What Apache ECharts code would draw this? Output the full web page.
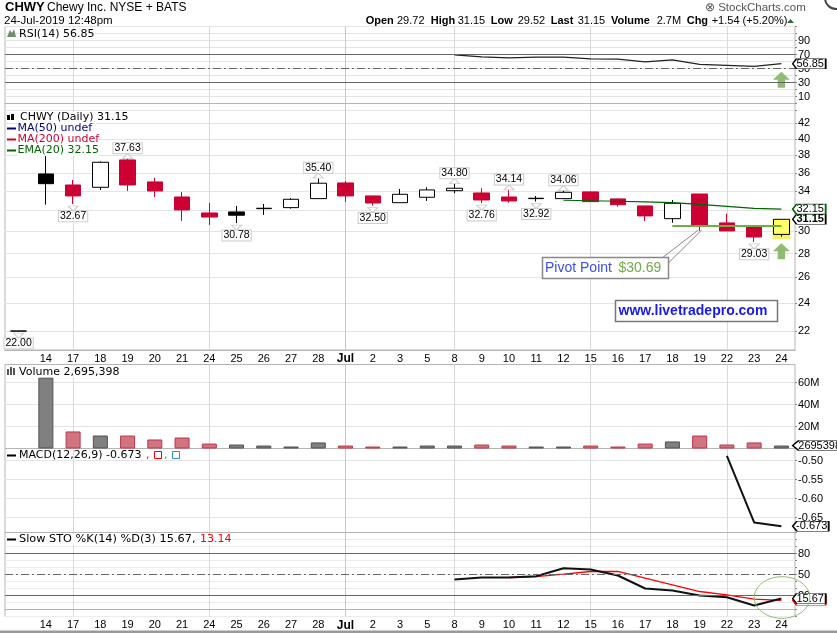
<!DOCTYPE html>
<html>
<head>
<meta charset="utf-8">
<title>CHWY</title>
<style>html,body{margin:0;padding:0;background:#fff;overflow:hidden}#main{width:837px;height:633px}</style>
<script src="https://cdn.jsdelivr.net/npm/echarts@6/dist/echarts.min.js"></script>
</head>
<body>
<div id="main"></div>
<script>
// values
var days = ['', '14', '17', '18', '19', '20', '21', '24', '25', '26', '27', '28', 'Jul', '2', '3', '5', '8', '9', '10', '11', '12', '15', '16', '17', '18', '19', '22', '23', '24'];
var opens = [22, 35.87, 34.66, 34.41, 37.47, 34.99, 33.39, 31.77, 31.87, 32.2, 32.3, 33.22, 34.88, 33.5, 32.8, 33.36, 34.05, 33.81, 33.39, 33.22, 33.22, 33.92, 33.19, 32.47, 31.21, 33.7, 30.8, 30.41, 29.72];
var closes = [22, 34.8, 33.5, 37.2, 34.66, 34.02, 32.07, 31.37, 31.55, 32.24, 33.15, 34.85, 33.5, 32.77, 33.67, 34.13, 34.31, 33.08, 32.98, 33.26, 33.88, 32.91, 32.6, 31.48, 32.74, 30.5, 30.04, 29.48, 31.15];
var lows = [22, 32.6, 32.67, 34.13, 34.02, 33.39, 30.99, 30.6, 30.78, 31.57, 32.2, 33.22, 32.88, 32.5, 32.8, 32.98, 33.78, 32.76, 32.8, 32.92, 33.22, 32.91, 32.4, 30.99, 30.82, 30.05, 30.04, 29.03, 29.52];
var highs = [22, 37.94, 35.2, 37.3, 37.63, 35.43, 33.92, 32.77, 32.47, 32.67, 33.27, 35.4, 35.1, 33.5, 34.23, 34.41, 34.8, 34.31, 34.14, 33.5, 34.06, 33.92, 33.25, 32.47, 33.07, 33.7, 31.7, 30.41, 31.15];
var ema20 = [null, null, null, null, null, null, null, null, null, null, null, null, null, null, null, null, null, null, null, null, 33.05, 33.0, 32.95, 32.88, 32.8, 32.62, 32.42, 32.22, 32.15];
var volumes = [null, 64.5, 15.5, 11.8, 11.8, 8.2, 10, 4.5, 3.6, 2.7, 1.8, 5.5, 2.7, 1.8, 1.8, 2.7, 2.7, 3.6, 2.7, 1.8, 1.8, 2.7, 1.8, 4.5, 6.4, 11.8, 3.6, 5.5, 2.695];
var rsi = [null, null, null, null, null, null, null, null, null, null, null, null, null, null, null, null, 69.5, 66.7, 65.2, 66.2, 66.2, 63.8, 63.3, 59.5, 62.4, 56, 54.5, 53, 56.85];
var macd = [null, null, null, null, null, null, null, null, null, null, null, null, null, null, null, null, null, null, null, null, null, null, null, null, null, null, -0.487, -0.663, -0.673];
var stoK = [null, null, null, null, null, null, null, null, null, null, null, null, null, null, null, null, 42.9, 45.7, 45.7, 47.6, 59, 57.1, 48.6, 30, 27.1, 20, 17.6, 5.7, 15.67];
var stoD = [null, null, null, null, null, null, null, null, null, null, null, null, null, null, null, null, null, null, 45.7, 47, 50.5, 54.3, 54.3, 44.7, 35.2, 25.7, 20.9, 14.7, 13.14];

var priceTicks = [42, 40, 38, 36, 34, 32, 30, 28, 26, 24, 22];
var macdTicks = [-0.65, -0.6, -0.55, -0.5];
var oscTicks = [90, 70, 50, 30, 10];
var stoTicks = [80, 50, 20];
var volTicks = [20, 40, 60];
var verticalDays = [2, 7, 12, 16, 21, 26];

var highNotes = [[4, 37.63], [11, 35.4], [16, 34.8], [18, 34.14], [20, 34.06]];
var lowNotes = [[0, 22], [2, 32.67], [8, 30.78], [13, 32.5], [17, 32.76], [19, 32.92], [27, 29.03]];
var lastIdx = days.length - 1;
var pivot = 30.5;

var RED = '#cc0033';
var font = 'Liberation Sans';
var wide = 'DejaVu Sans';
var arrowPath = 'path://M8 0 L16 8 L11.5 8 L11.5 16 L4.5 16 L4.5 8 L0 8 Z';

var candles = [];
var volItems = [];
for (var i = 0; i < days.length; i++) {
    var down = i > 0 && closes[i] < closes[i - 1];
    var fill = down ? RED : '#000';
    var hollow = closes[i] >= opens[i];
    var face = hollow ? (i == lastIdx ? '#ffff66' : '#fff') : fill;
    var edge = hollow ? '#000' : fill;
    // both colour pairs are set, so the look does not depend on which one the series picks
    candles.push({
        value: [opens[i], closes[i], lows[i], highs[i]],
        itemStyle: { color: face, color0: face, borderColor: edge, borderColor0: edge }
    });
    volItems.push({
        value: volumes[i],
        itemStyle: down ? { color: '#cf7480', borderColor: '#c23545', borderWidth: 1 } : { color: '#808080', borderColor: '#505050', borderWidth: 1 }
    });
}

// small price box on the right hand side
function tag(val, text, color, width, bold) {
    var w = width || 33;
    return {
        coord: [lastIdx, val],
        symbol: 'path://M0 5 L4 0 L34 0 L34 10 L4 10 Z',
        symbolSize: [w, 10],
        symbolOffset: [11.3 + w / 2, 0],
        itemStyle: { color: '#fff', borderColor: color, borderWidth: 1 },
        label: { show: true, position: 'inside', formatter: text, color: '#000', fontFamily: font, fontSize: 11, fontWeight: bold ? 'bold' : 'normal', offset: [1, 0] }
    };
}

function note(item, above) {
    return {
        coord: item,
        symbol: above ? 'path://M0 5 L5 0 L10 5 Z' : 'path://M0 0 L5 5 L10 0 Z',
        symbolSize: [10, 5],
        symbolOffset: [0, above ? -2.5 : 4.5],
        itemStyle: { color: '#fff', borderColor: '#ccc', borderWidth: 1 },
        label: {
            show: true,
            position: above ? 'top' : 'bottom',
            distance: 0,
            formatter: item[1].toFixed(2),
            color: '#000',
            fontFamily: font,
            fontSize: 10.5,
            backgroundColor: '#fff',
            borderColor: '#ccc',
            borderWidth: 1,
            padding: [0, 1],
            lineHeight: 10
        }
    };
}

var priceNotes = [];
highNotes.forEach(function (n) { priceNotes.push(note(n, true)); });
lowNotes.forEach(function (n) { priceNotes.push(note(n, false)); });
priceNotes.push(tag(31.15, '31.15', '#000', 33, true));

function levelLine(v, dash) {
    return { yAxis: v, lineStyle: { color: '#666', width: 1, type: dash ? [8, 3, 2, 3] : 'solid' } };
}

var grids = [
    { top: 26.5, height: 84 },
    { top: 110.5, height: 239.5 },
    { top: 364.5, height: 84 },
    { top: 448.5, height: 84 },
    { top: 532.5, height: 84 }
].map(function (g) {
    g.left = 5;
    g.width = 790;
    g.show = true;
    g.borderColor = '#b5b5b5';
    g.borderWidth = 1;
    return g;
});

var xAxes = grids.map(function (g, n) {
    return {
        type: 'category',
        gridIndex: n,
        data: days,
        axisLine: { lineStyle: { color: '#b5b5b5' } },
        axisTick: { show: false },
        axisLabel: {
            show: n == 1 || n == 4,
            interval: 0,
            margin: 3,
            color: '#000',
            fontFamily: font,
            fontSize: 11,
            formatter: function (v) { return v == 'Jul' ? '{b|Jul}' : v; },
            rich: { b: { fontWeight: 'bold', fontFamily: font, fontSize: 12 } }
        },
        splitLine: {
            show: true,
            alignWithLabel: true,
            interval: function (idx) { return verticalDays.indexOf(idx) >= 0; },
            lineStyle: { color: ['#dadada', '#dadada', '#c8c8c8', '#dadada', '#dadada', '#dadada'], width: 1 }
        }
    };
});

function valueAxis(n, extra) {
    var a = {
        type: 'value',
        gridIndex: n,
        position: 'right',
        axisLine: { show: false },
        axisTick: { show: true, length: 2, lineStyle: { color: '#888' } },
        axisLabel: { margin: 3, color: '#000', fontFamily: font, fontSize: 11 },
        splitLine: { show: true, lineStyle: { color: '#e4e4e4', width: 1 } }
    };
    for (var k in extra) a[k] = extra[k];
    return a;
}

function pickLabels(list) {
    return { margin: 3, color: '#000', fontFamily: font, fontSize: 11, formatter: function (v) { return list.indexOf(v) >= 0 ? String(v) : ''; } };
}

var yAxes = [
    valueAxis(0, { min: -10, max: 110, interval: 10, axisLabel: pickLabels(oscTicks) }),
    valueAxis(1, {
        type: 'log', min: 20.74, max: 43.7,
        axisLabel: { margin: 3, color: '#000', fontFamily: font, fontSize: 11, customValues: priceTicks, formatter: function (v) { return String(Math.round(v)); } },
        axisTick: { show: true, length: 2, customValues: priceTicks, lineStyle: { color: '#888' } }
    }),
    valueAxis(2, {
        min: 0, max: 76.4,
        axisLabel: { margin: 3, color: '#000', fontFamily: font, fontSize: 11, customValues: volTicks, formatter: function (v) { return v + 'M'; } },
        axisTick: { show: true, length: 2, customValues: volTicks, lineStyle: { color: '#888' } }
    }),
    valueAxis(3, {
        min: -0.6897, max: -0.4677,
        axisLabel: { margin: 3, color: '#000', fontFamily: font, fontSize: 11, customValues: macdTicks, formatter: function (v) { return v.toFixed(2); } },
        axisTick: { show: true, length: 2, customValues: macdTicks, lineStyle: { color: '#888' } }
    }),
    valueAxis(4, { min: -10, max: 110, interval: 10, axisLabel: pickLabels(stoTicks), splitLine: { show: true, lineStyle: { color: '#ececec', width: 1 } } })
];

var series = [
    {
        type: 'line', name: 'RSI', xAxisIndex: 0, yAxisIndex: 0, data: rsi, showSymbol: false, z: 3,
        lineStyle: { color: '#222', width: 1.3 },
        markLine: { silent: true, symbol: 'none', label: { show: false }, data: [levelLine(70), levelLine(50, true), levelLine(30)] },
        markPoint: { data: [tag(56.85, '56.85', '#000')] }
    },
    {
        type: 'scatter', name: 'RSI arrow', xAxisIndex: 0, yAxisIndex: 0, symbol: arrowPath, symbolSize: [17, 16], z: 4,
        itemStyle: { color: '#8fbc72', opacity: 1 }, data: [[lastIdx, 34]]
    },
    {
        type: 'scatter', name: 'highlight', xAxisIndex: 1, yAxisIndex: 1, symbol: 'rect', symbolSize: [18, 20], z: 1,
        itemStyle: { color: '#f7f06a', opacity: 1 }, data: [[lastIdx, 30.22]]
    },
    {
        type: 'candlestick', name: 'CHWY', xAxisIndex: 1, yAxisIndex: 1, data: candles, barWidth: 16, z: 2,
        itemStyle: { borderWidth: 1 },
        markPoint: { data: priceNotes }
    },
    {
        type: 'line', name: 'EMA(20)', xAxisIndex: 1, yAxisIndex: 1, data: ema20, showSymbol: false, z: 3,
        lineStyle: { color: '#006400', width: 1.2 },
        markLine: {
            silent: true, symbol: 'none', label: { show: false },
            data: [[{ coord: [24, pivot], lineStyle: { color: '#70ad47', width: 2, type: 'solid' } }, { coord: [28.42, pivot] }]]
        },
        markPoint: { data: [tag(32.15, '32.15', '#006400')] }
    },
    {
        type: 'scatter', name: 'price arrow', xAxisIndex: 1, yAxisIndex: 1, symbol: arrowPath, symbolSize: [17, 16], z: 4,
        itemStyle: { color: '#8fbc72', opacity: 1 }, data: [[lastIdx, 28.2]]
    },
    {
        type: 'bar', name: 'Volume', xAxisIndex: 2, yAxisIndex: 2, data: volItems, barWidth: 15,
        markPoint: { data: [tag(2.695, '2695398', '#000', 52)] }
    },
    {
        type: 'line', name: 'MACD', xAxisIndex: 3, yAxisIndex: 3, data: macd, showSymbol: false,
        lineStyle: { color: '#111', width: 2 },
        markPoint: { data: [tag(-0.673, '-0.673', '#000', 36)] }
    },
    {
        type: 'line', name: '%D', xAxisIndex: 4, yAxisIndex: 4, data: stoD, showSymbol: false, z: 3,
        lineStyle: { color: '#ff0000', width: 1.3 },
        markLine: { silent: true, symbol: 'none', label: { show: false }, data: [levelLine(80), levelLine(50, true), levelLine(20)] },
        markPoint: { data: [tag(13.14, '', '#ff0000')] } // sits behind the %K box, its value is in the legend
    },
    {
        type: 'line', name: '%K', xAxisIndex: 4, yAxisIndex: 4, data: stoK, showSymbol: false, z: 4,
        lineStyle: { color: '#111', width: 2 },
        markPoint: { data: [tag(15.67, '15.67', '#000')] }
    }
];

// texts and the things somebody drew on top of the chart
function txt(x, y, text, o) {
    o = o || {};
    return {
        type: 'text', x: x, y: y, z: 100,
        style: {
            text: text, verticalAlign: 'middle',
            fontFamily: o.family || font, fontSize: o.size || 11, fontWeight: o.weight || 'normal',
            fill: o.color || '#000', backgroundColor: o.bg
        }
    };
}
function box(x, y, w, h, stroke, fill, lw) {
    return { type: 'rect', z: 99, shape: { x: x, y: y, width: w, height: h }, style: { fill: fill || 'none', stroke: stroke, lineWidth: lw || 1 } };
}
function dash(y, color) {
    return { type: 'rect', z: 100, shape: { x: 7, y: y - 1, width: 9, height: 2 }, style: { fill: color } };
}
function seg(x1, y1, x2, y2) {
    return { type: 'line', z: 99, shape: { x1: x1, y1: y1, x2: x2, y2: y2 }, style: { stroke: '#888', lineWidth: 1 } };
}

var headerPieces = [
    ['Open', 365.7, 1], ['29.72', 397, 0], ['High', 430.7, 1], ['31.15', 457.7, 0], ['Low', 490.7, 1], ['29.52', 517.7, 0],
    ['Last', 550.7, 1], ['31.15', 577.7, 0], ['Volume', 611, 1], ['2.7M', 656.7, 0], ['Chg', 686.7, 1], ['+1.54 (+5.20%)', 711.7, 0]
];
var graphics = [
    txt(5, 7.5, 'CHWY', { size: 13, weight: 'bold' }),
    txt(47, 7.5, 'Chewy Inc. NYSE + BATS', { size: 12 }),
    txt(4, 20.7, '24-Jul-2019 12:48pm', { size: 11.5 }),
    txt(705, 7.5, '\u2297 StockCharts.com', { size: 11.5, color: '#555' }),
    { type: 'polygon', z: 100, shape: { points: [[787, 23], [794, 23], [790.5, 19]] }, style: { fill: '#2e6b2e' } },
    { type: 'circle', z: 100, shape: { cx: 836, cy: -2, r: 11 }, style: { fill: '#fff', stroke: '#444', lineWidth: 2 } },
    { type: 'rect', z: 100, shape: { x: 0, y: 630.5, width: 837, height: 3 }, style: { fill: '#999' } },

    { type: 'polygon', z: 100, shape: { points: [[7, 37], [10, 30], [12, 33], [14, 29], [16, 37]] }, style: { fill: '#6f8f6f' } },
    txt(19, 33.7, 'RSI(14) 56.85', { family: wide, bg: '#fff' }),

    { type: 'rect', z: 100, shape: { x: 7, y: 115, width: 3, height: 5 }, style: { fill: '#000' } },
    { type: 'rect', z: 100, shape: { x: 11, y: 114, width: 3, height: 6 }, style: { fill: '#000' } },
    txt(20, 117.5, 'CHWY (Daily) 31.15', { family: wide, bg: '#fff' }),
    dash(128.5, '#000080'),
    txt(17.5, 128.5, 'MA(50) undef', { family: wide, color: '#000080', bg: '#fff' }),
    dash(139.5, '#cc0033'),
    txt(17.5, 139.5, 'MA(200) undef', { family: wide, color: '#cc0033', bg: '#fff' }),
    dash(150.5, '#006400'),
    txt(17.5, 150.5, 'EMA(20) 32.15', { family: wide, color: '#006400', bg: '#fff' }),

    { type: 'rect', z: 100, shape: { x: 7, y: 369, width: 2, height: 6 }, style: { fill: '#555' } },
    { type: 'rect', z: 100, shape: { x: 10, y: 367, width: 2, height: 8 }, style: { fill: '#555' } },
    { type: 'rect', z: 100, shape: { x: 13, y: 368, width: 2, height: 7 }, style: { fill: '#555' } },
    txt(19, 371.7, 'Volume 2,695,398', { family: wide, bg: '#fff' }),

    dash(455.5, '#000'),
    txt(19, 455.5, 'MACD(12,26,9) -0.673', { family: wide }),
    txt(146, 455.5, ',', { family: wide, color: '#ff0000' }),
    box(154.5, 451.5, 7, 7, '#ff0000', '#fff'),
    txt(164, 455.5, ',', { family: wide, color: '#2a8fc8' }),
    box(172.5, 451.5, 7, 7, '#2a8fc8', '#fff'),

    dash(539.5, '#000'),
    txt(19, 539.5, 'Slow STO %K(14) %D(3) 15.67,', { family: wide, size: 11.3, bg: '#fff' }),
    txt(200, 539.5, '13.14', { family: wide, color: '#ff0000', bg: '#fff' }),

    seg(663, 257.3, 698.3, 230),
    seg(668.7, 262.7, 701.7, 230),
    box(542.5, 257.5, 126, 21, '#888', '#fff', 1.5),
    txt(545, 268.5, 'Pivot Point', { size: 14, color: '#3a50e8' }),
    txt(618.5, 268.5, '$30.69', { size: 14, color: '#70ad47' }),
    box(615.5, 300.5, 162, 21, '#777', '#fff', 1.5),
    txt(618.5, 311.5, 'www.livetradepro.com', { size: 14, weight: 'bold', color: '#1a1ae6' }),

    { type: 'ellipse', z: 100, shape: { cx: 782, cy: 597.5, rx: 27.8, ry: 20.8 }, style: { fill: 'none', stroke: '#8fbc72', lineWidth: 1 } }
];
headerPieces.forEach(function (p) {
    graphics.push(txt(p[1], 20.7, p[0], p[2] ? { size: 11, weight: 'bold' } : { size: 11 }));
});

var myChart = echarts.init(document.getElementById('main'), null, { renderer: 'canvas' });
myChart.setOption({
    animation: false,
    backgroundColor: '#fff',
    grid: grids,
    xAxis: xAxes,
    yAxis: yAxes,
    series: series,
    graphic: { elements: graphics }
});
</script>
</body>
</html>
